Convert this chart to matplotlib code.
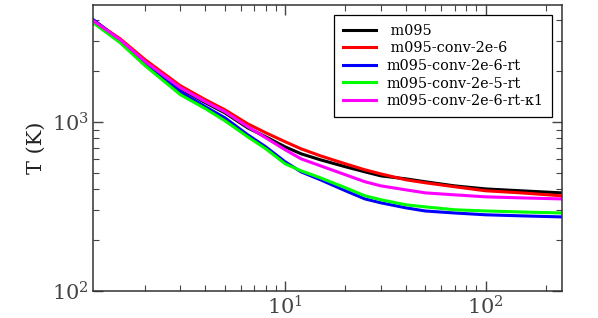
import matplotlib
matplotlib.use("Agg")
import matplotlib.pyplot as plt
import numpy as np

plt.rcParams['font.family'] = 'DejaVu Serif'
plt.rcParams['mathtext.fontset'] = 'dejavuserif'

# radius (x) and temperature (K)
r = [1.1, 1.5, 2, 3, 4, 5, 6.5, 8, 10, 12, 15, 20, 25, 30, 40, 50, 70, 100, 150, 240]

T_m095 = [4015, 3057, 2265, 1568, 1296, 1130, 921, 815, 711, 647, 596, 542,
          506, 479, 460, 442, 418, 401, 391, 380]
T_conv = [3960, 3099, 2328, 1633, 1350, 1178, 973, 861, 762, 692, 629, 564,
          520, 492, 454, 436, 413, 391, 380, 365]
T_conv_rt = [4015, 3015, 2204, 1505, 1227, 1056, 838, 711, 580, 506, 454, 391,
             350, 332, 310, 297, 289, 282, 278, 274]
T_conv5_rt = [3853, 2934, 2145, 1445, 1194, 1014, 815, 692, 564, 513, 466, 407,
              365, 346, 323, 314, 302, 297, 293, 289]
T_conv_rt_k1 = [3960, 3057, 2265, 1589, 1313, 1146, 934, 804, 683, 604, 549, 486,
                442, 418, 396, 380, 370, 360, 355, 350]

labels = [" m095", " m095-conv-2e-6", "m095-conv-2e-6-rt",
          "m095-conv-2e-5-rt", "m095-conv-2e-6-rt-\u03ba1"]
colors = ["black", "red", "blue", "lime", "magenta"]
series = [T_m095, T_conv, T_conv_rt, T_conv5_rt, T_conv_rt_k1]

fig = plt.figure(figsize=(5.98, 3.18), dpi=100)
ax = fig.add_axes([0.1555, 0.085, 0.784, 0.8993])

for T, c, lab in zip(series, colors, labels):
    ax.plot(r, T, color=c, lw=2.2, label=lab)

ax.set_xscale('log')
ax.set_yscale('log')
ax.set_xlim(1.1, 240)
ax.set_ylim(100, 4900)

ax.set_ylabel("T (K)", fontsize=15, color='#222222', labelpad=4)

ax.tick_params(which='both', direction='in', top=True, right=True,
               colors='#444444', labelcolor='#444444')
ax.tick_params(which='major', length=7, width=1, labelsize=15, pad=3)
ax.tick_params(which='minor', length=4, width=0.8)
for s in ax.spines.values():
    s.set_color('#333333')
    s.set_linewidth(1.1)

leg = ax.legend(loc='upper right', fontsize=10.4, fancybox=False,
                framealpha=1, edgecolor='black', handlelength=2.3,
                labelspacing=0.25, borderpad=0.6, handletextpad=0.7,
                borderaxespad=0, bbox_to_anchor=(0.979, 0.965))
leg.get_frame().set_linewidth(0.9)

fig.savefig("out.png", dpi=100)
